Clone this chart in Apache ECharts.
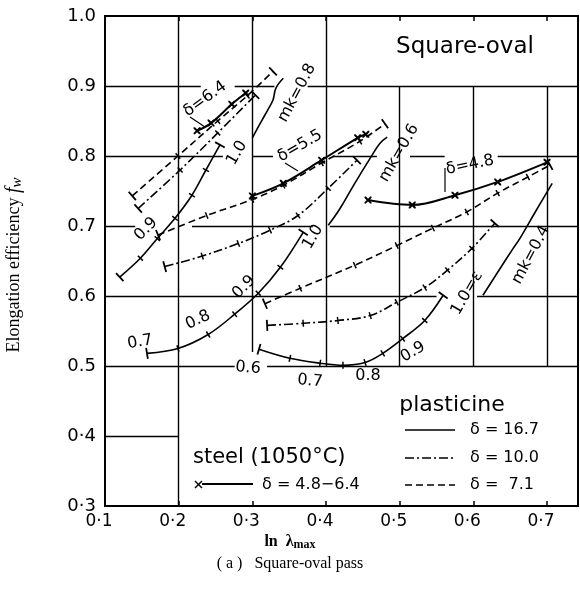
<!DOCTYPE html>
<html><head><meta charset="utf-8">
<script src="https://cdn.jsdelivr.net/npm/echarts@6/dist/echarts.min.js"></script>
<style>html,body{margin:0;padding:0;background:#fff}#c{width:580px;height:594px}</style>
</head><body><div id="c"></div>
<script>
// ---- axis ticks ----
const xTickValues = [0.1, 0.2, 0.3, 0.4, 0.5, 0.6, 0.7];
const xTickLabels = ['0·1', '0·2', '0·3', '0·4', '0·5', '0·6', '0·7'];
const yTickValues = [0.3, 0.4, 0.5, 0.6, 0.7, 0.8, 0.9, 1.0];
const yTickLabels = ['0·3', '0·4', '0.5', '0.6', '0.7', '0.8', '0.9', '1.0'];

// ---- m_k = 0.8 group ----
const mk08Plasticine71 = [[0.137,0.743],[0.199,0.800],[0.253,0.850],[0.293,0.886],[0.328,0.921]];
const mk08Plasticine100 = [[0.145,0.725],[0.202,0.780],[0.253,0.833],[0.304,0.887]];
const mk08Plasticine167 = [[0.120,0.627],[0.148,0.654],[0.171,0.682],[0.195,0.711],[0.218,0.744],[0.237,0.780],[0.256,0.816]];
const mk08Steel64 = [[0.225,0.836],[0.244,0.847],[0.272,0.874],[0.291,0.890]];
const mk08Iso = [[0.300,0.826],[0.313,0.851],[0.321,0.866],[0.328,0.880],[0.332,0.897],[0.342,0.911]];

// ---- m_k = 0.6 group ----
const mk06Plasticine71 = [[0.172,0.687],[0.238,0.715],[0.300,0.738],[0.342,0.758],[0.394,0.790],[0.446,0.821],[0.480,0.846]];
const mk06Plasticine100 = [[0.181,0.642],[0.232,0.657],[0.281,0.675],[0.324,0.694],[0.362,0.715],[0.403,0.754],[0.442,0.794]];
const mk06Plasticine167 = [[0.157,0.518],[0.199,0.525],[0.240,0.545],[0.276,0.574],[0.308,0.604],[0.338,0.641],[0.369,0.691]];
const mk06Steel55 = [[0.300,0.743],[0.342,0.761],[0.394,0.794],[0.443,0.826],[0.454,0.831]];
const mk06Iso = [[0.403,0.701],[0.419,0.725],[0.439,0.761],[0.460,0.797],[0.473,0.818],[0.483,0.827]];

// ---- m_k = 0.4 group ----
const mk04Plasticine71 = [[0.317,0.589],[0.365,0.611],[0.439,0.644],[0.496,0.672],[0.545,0.697],[0.591,0.720],[0.633,0.747],[0.674,0.770],[0.704,0.787]];
const mk04Plasticine100 = [[0.320,0.558],[0.369,0.561],[0.416,0.565],[0.460,0.572],[0.496,0.591],[0.534,0.612],[0.565,0.637],[0.598,0.668],[0.629,0.704]];
const mk04Plasticine167 = [[0.309,0.524],[0.351,0.511],[0.392,0.504],[0.423,0.501],[0.453,0.505],[0.477,0.518],[0.504,0.539],[0.534,0.565],[0.559,0.601]];
const mk04Steel48 = [[0.457,0.737],[0.517,0.730],[0.575,0.744],[0.633,0.763],[0.700,0.791]];
const mk04Iso = [[0.613,0.601],[0.633,0.634],[0.654,0.668],[0.663,0.682],[0.684,0.720],[0.707,0.761]];

// ---- partial grid lines [x1, y1, x2, y2] ----
const gridSegments = [
  [0.2,0.3,0.2,1.0],[0.3,0.52,0.3,1.0],[0.4,0.5,0.4,1.0],
  [0.5,0.5,0.5,0.9],[0.6,0.5,0.6,0.9],[0.7,0.5,0.7,0.9],
  [0.1,0.9,0.23,0.9],[0.276,0.9,0.33,0.9],[0.375,0.9,0.742,0.9],
  [0.1,0.8,0.26,0.8],[0.301,0.8,0.328,0.8],[0.409,0.8,0.469,0.8],[0.514,0.8,0.561,0.8],[0.633,0.8,0.742,0.8],
  [0.1,0.7,0.141,0.7],[0.218,0.7,0.382,0.7],[0.405,0.7,0.742,0.7],
  [0.1,0.6,0.55,0.6],[0.605,0.6,0.742,0.6],
  [0.1,0.5,0.276,0.5],[0.32,0.5,0.742,0.5],
  [0.1,0.4,0.2,0.4]
];

// ---- layout ----
const G = {left:105, top:16, width:473, height:490};
const XMIN = 0.1, XMAX = 0.742, YMIN = 0.3, YMAX = 1.0;
const kx = G.width / (XMAX - XMIN), ky = G.height / (YMAX - YMIN);

const DASHED = [7, 4];
const DASHDOT = [9, 3, 2, 3];
const X_PATH = 'path://M0,0L2,0L10,8L10,10L8,10L0,2Z M8,0L10,0L10,2L2,10L0,10L0,8Z';

function tickItems(arr) {
  const n = arr.length;
  return arr.map((p, i) => {
    const a = arr[Math.max(i - 1, 0)], b = arr[Math.min(i + 1, n - 1)];
    const ang = Math.atan2((b[1] - a[1]) * ky, (b[0] - a[0]) * kx) * 180 / Math.PI;
    const end = (i === 0 || i === n - 1);
    return {value: p, symbolRotate: ang, symbolSize: end ? [1.8, 11] : [1.5, 7]};
  });
}
function plast(arr, dash) {
  return {type:'line', data: tickItems(arr), smooth: 0.35, symbol:'rect', showSymbol:true,
    lineStyle:{color:'#000', width:1.6, type:dash}, itemStyle:{color:'#000'}, z:3, silent:true};
}
function steel(arr) {
  return {type:'line', data: arr, smooth: 0.35, symbol: X_PATH, symbolSize: 7, showSymbol:true,
    lineStyle:{color:'#000', width:2}, itemStyle:{color:'#000'}, z:4, silent:true};
}
function iso(arr) {
  return {type:'line', data: arr, smooth: 0.4, symbol:'none',
    lineStyle:{color:'#000', width:1.6}, z:3, silent:true};
}

const FONT = '"DejaVu Sans", sans-serif';
const annotations = [
  ['δ=6.4', 205, 99, 36], ['1.0', 237, 153, 60], ['0.9', 146, 229, 45], ['mk=0.8', 297, 93, 62],
  ['δ=5.5', 300, 146, 30], ['mk=0.6', 399, 153, 60], ['1.0', 313, 237, 60],
  ['0.7', 140, 342, 10], ['0.8', 198, 320, 25], ['0.9', 244, 287, 45],
  ['δ=4.8', 470, 165, 12], ['mk=0.4', 531, 255, 62], ['1.0=ε', 467, 293, 60],
  ['0.6', 248, 368, -5], ['0.7', 310, 381, -5], ['0.8', 368, 376, 0], ['0.9', 413, 352, 30]
];

const graphic = annotations.map(a => ({
  type:'text', x:a[1], y:a[2], rotation:a[3] * Math.PI / 180, z:10,
  style:{text:a[0], font:'16px ' + FONT, fill:'#000', align:'center', verticalAlign:'middle'}
}));
function gline(x1, y1, x2, y2, dash, w) {
  return {type:'line', shape:{x1, y1, x2, y2}, z:10,
    style:{stroke:'#000', lineWidth:w || 1.6, lineDash:dash || null}};
}
function gtext(t, x, y, size, align, fam, extra) {
  return Object.assign({type:'text', x, y, z:10,
    style:Object.assign({text:t, font:size + 'px ' + (fam || FONT), fill:'#000', align:align || 'left', verticalAlign:'middle'}, extra || {})});
}
graphic.push(
  // leaders
  gline(190, 117, 205, 127, null, 1.2), gline(285, 163, 298, 171, null, 1.2), gline(445, 168, 445, 192, null, 1.2),
  // title box text
  gtext('Square-oval', 465, 47, 23, 'center'),
  // plasticine legend
  gtext('plasticine', 452, 405, 22, 'center'),
  gline(405, 430, 455, 430), gtext('δ = 16.7', 470, 430, 16),
  gline(405, 458, 455, 458, DASHDOT), gtext('δ = 10.0', 470, 458, 16),
  gline(405, 485, 455, 485, DASHED), gtext('δ =  7.1', 470, 485, 16),
  // steel legend
  gtext('steel (1050°C)', 193, 458, 21),
  gline(195, 481, 202, 488, null, 1.4), gline(202, 481, 195, 488, null, 1.4),
  gline(202, 484, 253, 484, null, 2), gtext('δ = 4.8−6.4', 262, 485, 16),
  // axis titles
  {type:'text', x:14, y:265, rotation:Math.PI/2, z:10,
   style:{text:'{n|Elongation efficiency }{f|f}{w|w}', align:'center', verticalAlign:'middle',
     rich:{n:{font:'18px "Liberation Serif", serif', fill:'#000'},
           f:{font:'italic 20px "Liberation Serif", serif', fill:'#000'},
           w:{font:'italic 15px "Liberation Serif", serif', fill:'#000', padding:[7,0,0,0]}}}},
  {type:'text', x:290, y:542, z:10,
   style:{text:'{n|ln  λ}{s|max}', align:'center', verticalAlign:'middle',
     rich:{n:{font:'bold 16px "Liberation Serif", serif', fill:'#000'},
           s:{font:'bold 12px "Liberation Serif", serif', fill:'#000', padding:[6,0,0,0]}}}},
  gtext('( a )   Square-oval pass', 290, 564, 16, 'center', '"Liberation Serif", serif')
);

function labelFor(values, labels, v) {
  for (let i = 0; i < values.length; i++) if (Math.abs(values[i] - v) < 1e-6) return labels[i];
  return '';
}

const chart = echarts.init(document.getElementById('c'), null, {renderer:'canvas'});
chart.setOption({
  animation:false,
  backgroundColor:'#fff',
  grid:{left:G.left, top:G.top, width:G.width, height:G.height, show:true, borderColor:'#000', borderWidth:2, backgroundColor:'transparent'},
  xAxis:[
    {type:'value', min:XMIN, max:XMAX, interval:0.1, position:'bottom',
     axisLine:{show:true, lineStyle:{color:'#000', width:2}},
     axisTick:{show:true, inside:true, length:5, lineStyle:{color:'#000', width:1.5}},
     splitLine:{show:false},
     axisLabel:{show:true, color:'#000', fontSize:17, fontFamily:'DejaVu Sans', margin:7, padding:[0,12,0,0],
       showMaxLabel:false, formatter:v => labelFor(xTickValues, xTickLabels, v)}},
    {type:'value', min:XMIN, max:XMAX, interval:0.1, position:'top',
     axisLine:{show:true, lineStyle:{color:'#000', width:2}},
     axisTick:{show:true, inside:true, length:5, lineStyle:{color:'#000', width:1.5}},
     splitLine:{show:false}, axisLabel:{show:false}}
  ],
  yAxis:{type:'value', min:YMIN, max:YMAX, interval:0.1,
    axisLine:{show:true, lineStyle:{color:'#000', width:2}},
    axisTick:{show:false}, splitLine:{show:false},
    axisLabel:{show:true, color:'#000', fontSize:18, fontFamily:'DejaVu Sans', margin:9,
      formatter:v => labelFor(yTickValues, yTickLabels, v)}},
  series:[
    {type:'lines', coordinateSystem:'cartesian2d', silent:true, z:1,
     lineStyle:{color:'#000', width:1.4, opacity:1},
     data: gridSegments.map(s => ({coords:[[s[0], s[1]], [s[2], s[3]]]}))},
    plast(mk08Plasticine71, DASHED), plast(mk08Plasticine100, DASHDOT), plast(mk08Plasticine167, 'solid'),
    steel(mk08Steel64), iso(mk08Iso),
    plast(mk06Plasticine71, DASHED), plast(mk06Plasticine100, DASHDOT), plast(mk06Plasticine167, 'solid'),
    steel(mk06Steel55), iso(mk06Iso),
    plast(mk04Plasticine71, DASHED), plast(mk04Plasticine100, DASHDOT), plast(mk04Plasticine167, 'solid'),
    steel(mk04Steel48), iso(mk04Iso)
  ],
  graphic: graphic
});
</script>
</body></html>
